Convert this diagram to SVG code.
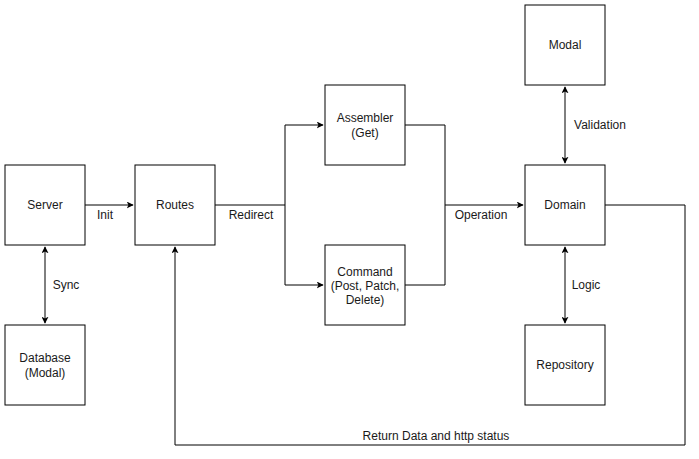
<svg xmlns="http://www.w3.org/2000/svg" width="699" height="459" viewBox="0 0 699 459">
<defs>
<marker id="arr" viewBox="0 0 10 10" refX="9" refY="5" markerWidth="7" markerHeight="7" markerUnits="userSpaceOnUse" orient="auto-start-reverse">
<path d="M0,0 L10,5 L0,10 L2.5,5 Z" fill="#000"/>
</marker>
</defs>
<style>
.box{fill:#fff;stroke:#000;stroke-width:1}
.t{font-family:"Liberation Sans",Arial,sans-serif;font-size:12px;fill:#1a1a1a;text-anchor:middle}
.c{fill:none;stroke:#000;stroke-width:1}
</style>
<rect width="699" height="459" fill="#fff"/>
<g id="connectors">
<path class="c" d="M85,205 H133" marker-end="url(#arr)"/>
<path class="c" d="M215,205 H285 V125 H323" marker-end="url(#arr)"/>
<path class="c" d="M285,205 V285 H323" marker-end="url(#arr)"/>
<path class="c" d="M405,125 H445 V205 H523" marker-end="url(#arr)"/>
<path class="c" d="M405,285 H445 V205"/>
<path class="c" d="M45,247 V323" marker-start="url(#arr)" marker-end="url(#arr)"/>
<path class="c" d="M565,87 V163" marker-start="url(#arr)" marker-end="url(#arr)"/>
<path class="c" d="M565,247 V323" marker-start="url(#arr)" marker-end="url(#arr)"/>
<path class="c" d="M605,205 H685 V445 H175 V247" marker-end="url(#arr)"/>
<text class="t" x="105" y="219">Init</text>
<text class="t" x="251" y="219">Redirect</text>
<text class="t" x="481" y="219">Operation</text>
<text class="t" x="66" y="289">Sync</text>
<text class="t" x="600" y="129">Validation</text>
<text class="t" x="586" y="289">Logic</text>
<text class="t" x="436" y="440">Return Data and http status</text>
</g>
<g id="server"><rect class="box" x="5" y="165" width="80" height="80"/><text class="t" x="45" y="209">Server</text></g>
<g id="routes"><rect class="box" x="135" y="165" width="80" height="80"/><text class="t" x="175" y="209">Routes</text></g>
<g id="assembler"><rect class="box" x="325" y="85" width="80" height="80"/><text class="t" x="365" y="122">Assembler</text><text class="t" x="365" y="137">(Get)</text></g>
<g id="command"><rect class="box" x="325" y="245" width="80" height="80"/><text class="t" x="365" y="276">Command</text><text class="t" x="365" y="290">(Post, Patch,</text><text class="t" x="365" y="304">Delete)</text></g>
<g id="domain"><rect class="box" x="525" y="165" width="80" height="80"/><text class="t" x="565" y="209">Domain</text></g>
<g id="modal"><rect class="box" x="525" y="5" width="80" height="80"/><text class="t" x="565" y="49">Modal</text></g>
<g id="repository"><rect class="box" x="525" y="325" width="80" height="80"/><text class="t" x="565" y="369">Repository</text></g>
<g id="database"><rect class="box" x="5" y="325" width="80" height="80"/><text class="t" x="45" y="362">Database</text><text class="t" x="45" y="377">(Modal)</text></g>
</svg>
